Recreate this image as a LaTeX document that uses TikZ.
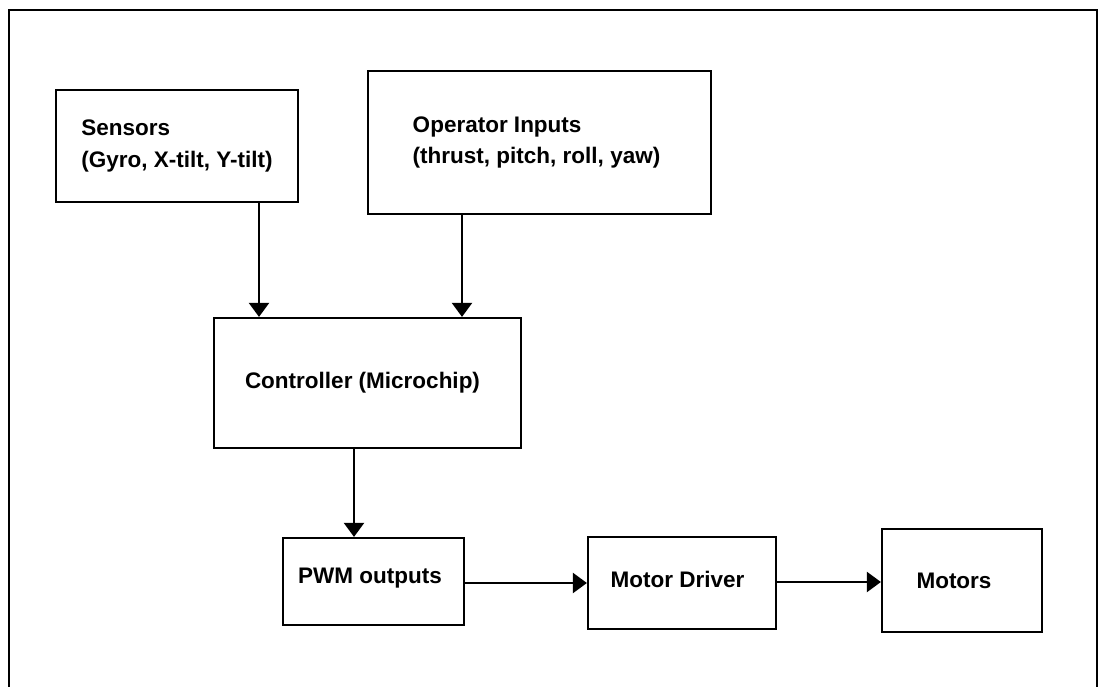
\documentclass[tikz,border=0pt]{standalone}
\usepackage{fontspec}
\setmainfont{Liberation Sans}
\usetikzlibrary{arrows.meta}
\begin{document}
\begin{tikzpicture}[x=1pt,y=-1pt,
  box/.style={draw=black, line width=2.2pt, rectangle, inner sep=0pt, align=left,
    font=\fontsize{22.5}{31.5}\selectfont\bfseries},
  conn/.style={line width=2.2pt, -{Triangle[width=20pt,length=14pt]}},
  frameline/.style={line width=2.8pt}]
\useasboundingbox (0,0) rectangle (1101,687);
% open outer frame
\coordinate (fbl) at (9,687);
\coordinate (ftl) at (9,10);
\coordinate (ftr) at (1097,10);
\coordinate (fbr) at (1097,687);
\draw[frameline] (fbl) -- (ftl) -- (ftr) -- (fbr);
% boxes
\node[box, minimum width=242pt, minimum height=112pt] (sens) at (177,146)
  {Sensors\\(Gyro, X-tilt, Y-tilt)};
\node[box, minimum width=343pt, minimum height=143pt] (oper) at (539.5,142.5)
  {\hspace*{-6pt}Operator Inputs\\\hspace*{-6pt}(thrust, pitch, roll, yaw)};
\node[box, minimum width=307pt, minimum height=130pt] (ctrl) at (367.5,383)
  {\hspace*{-10pt}Controller (Microchip)};
\node[box, minimum width=181pt, minimum height=87pt, text depth=12pt] (pwm) at (373.5,581.5)
  {\hspace*{-7pt}PWM outputs};
\node[box, minimum width=188pt, minimum height=92pt, text depth=7pt] (drv) at (682,583)
  {\hspace*{-9pt}Motor Driver};
\node[box, minimum width=160pt, minimum height=103pt] (mot) at (962,580.5)
  {\hspace*{-16pt}Motors};
% connectors
\draw[conn] (sens.south -| 259,0) -- (ctrl.north -| 259,0);
\draw[conn] (oper.south -| 462,0) -- (ctrl.north -| 462,0);
\draw[conn] (ctrl.south -| 354,0) -- (pwm.north -| 354,0);
\draw[conn] (pwm.east |- 0,583) -- (drv.west |- 0,583);
\draw[conn] (drv.east |- 0,582) -- (mot.west |- 0,582);
\end{tikzpicture}
\end{document}
